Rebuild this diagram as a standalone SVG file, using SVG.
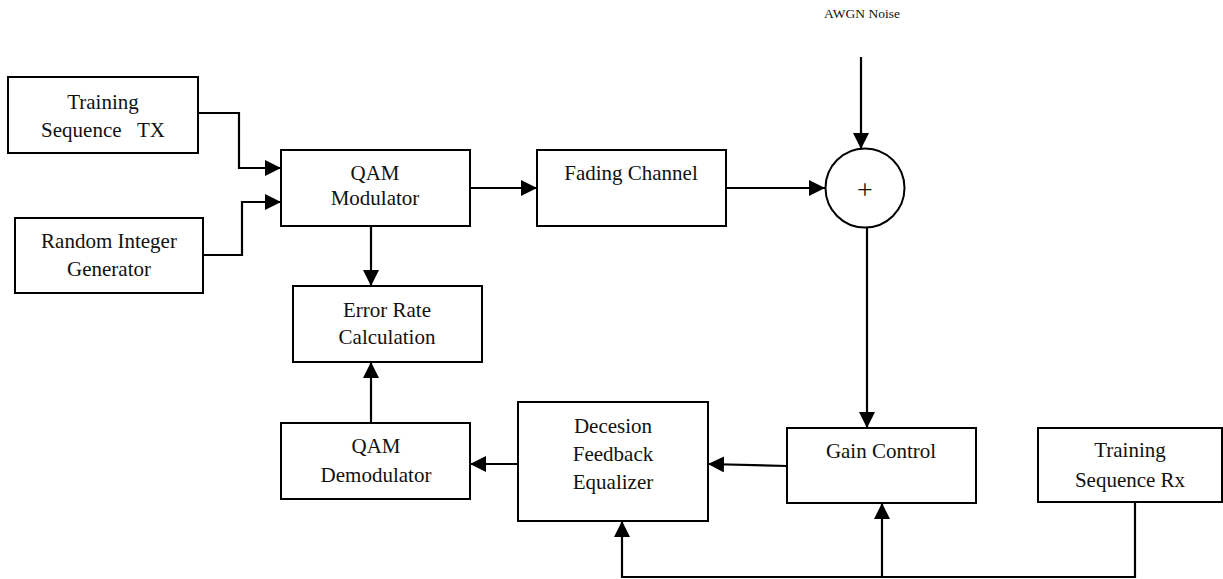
<svg xmlns="http://www.w3.org/2000/svg" width="1223" height="579" viewBox="0 0 1223 579">
  <style>
    .box { fill: #ffffff; stroke: #000000; stroke-width: 2; }
    .wire { fill: none; stroke: #000000; stroke-width: 2.2; }
    .lbl { font-family: "Liberation Serif", "Times New Roman", serif; font-size: 21px; fill: #111111; text-anchor: middle; }
    .small { font-family: "Liberation Serif", "Times New Roman", serif; font-size: 13.5px; fill: #111111; text-anchor: middle; }
  </style>
  <defs>
    <marker id="arrow" markerUnits="userSpaceOnUse" markerWidth="16" markerHeight="16" viewBox="0 0 14 14" refX="14" refY="7" orient="auto">
      <path d="M0,0 L14,7 L0,14 Z" fill="#000000"/>
    </marker>
  </defs>

  <rect width="1223" height="579" fill="#ffffff"/>

  <!-- connectors -->
  <g id="connectors">
    <path class="wire" d="M198,113 H239 V168 H281" marker-end="url(#arrow)"/>
    <path class="wire" d="M203,255 H242 V202 H281" marker-end="url(#arrow)"/>
    <path class="wire" d="M470,188 H537" marker-end="url(#arrow)"/>
    <path class="wire" d="M726,188 H825" marker-end="url(#arrow)"/>
    <path class="wire" d="M861,57 V149" marker-end="url(#arrow)"/>
    <path class="wire" d="M867,227 V428" marker-end="url(#arrow)"/>
    <path class="wire" d="M371,226 V286" marker-end="url(#arrow)"/>
    <path class="wire" d="M371,423 V362" marker-end="url(#arrow)"/>
    <path class="wire" d="M518,464 H470" marker-end="url(#arrow)"/>
    <path class="wire" d="M787,466 L708,464" marker-end="url(#arrow)"/>
    <path class="wire" d="M1135,503 V577 H622 V521" marker-end="url(#arrow)"/>
    <path class="wire" d="M882,577 V503" marker-end="url(#arrow)"/>
  </g>

  <g id="training-tx">
    <rect class="box" x="8" y="77" width="190" height="76"/>
    <text class="lbl" x="103" y="109">Training</text>
    <text class="lbl" x="103" y="137" style="white-space:pre">Sequence   TX</text>
  </g>

  <g id="random-integer">
    <rect class="box" x="15" y="218" width="188" height="75"/>
    <text class="lbl" x="109" y="248">Random Integer</text>
    <text class="lbl" x="109" y="276">Generator</text>
  </g>

  <g id="qam-modulator">
    <rect class="box" x="281" y="150" width="189" height="76"/>
    <text class="lbl" x="375" y="180">QAM</text>
    <text class="lbl" x="375" y="205">Modulator</text>
  </g>

  <g id="fading-channel">
    <rect class="box" x="537" y="150" width="189" height="76"/>
    <text class="lbl" x="631" y="180">Fading Channel</text>
  </g>

  <g id="awgn-noise">
    <text class="small" x="862" y="18">AWGN Noise</text>
  </g>

  <g id="adder">
    <circle class="box" cx="865" cy="188" r="39.5"/>
    <text class="lbl" x="865" y="199" style="font-size:28px">+</text>
  </g>

  <g id="error-rate">
    <rect class="box" x="293" y="286" width="189" height="76"/>
    <text class="lbl" x="387" y="317">Error Rate</text>
    <text class="lbl" x="387" y="344">Calculation</text>
  </g>

  <g id="qam-demodulator">
    <rect class="box" x="281" y="423" width="189" height="76"/>
    <text class="lbl" x="376" y="453">QAM</text>
    <text class="lbl" x="376" y="482">Demodulator</text>
  </g>

  <g id="dfe">
    <rect class="box" x="518" y="402" width="190" height="119"/>
    <text class="lbl" x="613" y="433">Decesion</text>
    <text class="lbl" x="613" y="461">Feedback</text>
    <text class="lbl" x="613" y="489">Equalizer</text>
  </g>

  <g id="gain-control">
    <rect class="box" x="787" y="428" width="189" height="75"/>
    <text class="lbl" x="881" y="458">Gain Control</text>
  </g>

  <g id="training-rx">
    <rect class="box" x="1038" y="428" width="184" height="74"/>
    <text class="lbl" x="1130" y="457">Training</text>
    <text class="lbl" x="1130" y="487">Sequence Rx</text>
  </g>
</svg>
